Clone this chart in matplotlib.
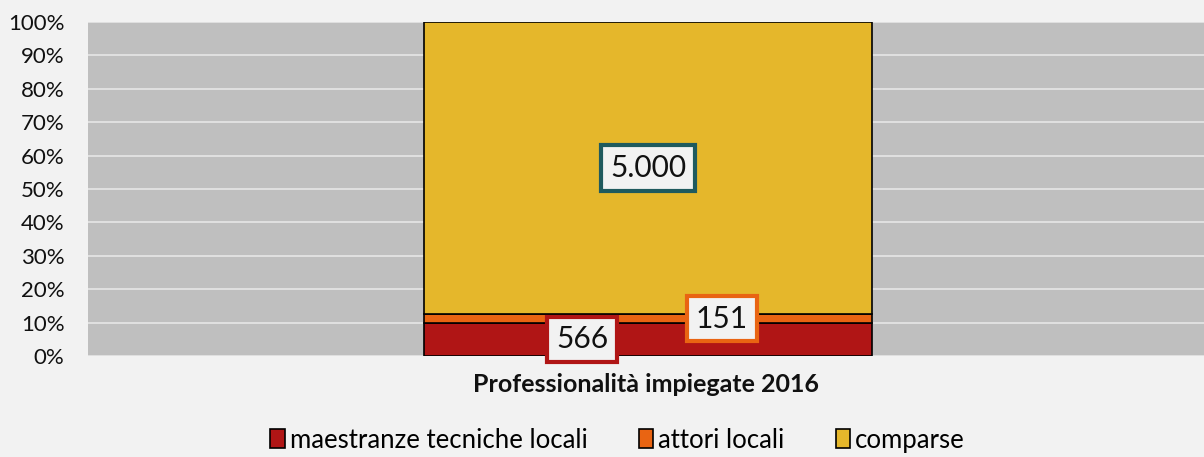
import matplotlib.pyplot as plt
from matplotlib.patches import Patch
from matplotlib.ticker import PercentFormatter

category = "Professionalità impiegate 2016"
series = ["maestranze tecniche locali", "attori locali", "comparse"]
values = [566, 151, 5000]
value_labels = ["566", "151", "5.000"]
colors = ["#B01515", "#E96412", "#E5B72B"]
box_edges = ["#B01515", "#E96412", "#1F5A5E"]
label_dx = [-0.059, 0.066, 0.0]

plt.rcParams["font.family"] = ["Lato", "DejaVu Sans"]

fig = plt.figure(figsize=(12.04, 4.57), dpi=100, facecolor="#F2F2F2")
ax = fig.add_axes([0.0731, 0.221, 0.9269, 0.731])
ax.set_facecolor("#BFBFBF")

total = sum(values)
bottom = 0.0
for name, v, c, txt, ec, dx in zip(series, values, colors, value_labels, box_edges, label_dx):
    share = v / total
    ax.bar(0.002, share, width=0.401, bottom=bottom, color=c, edgecolor="black",
           linewidth=1.2, zorder=3)
    ax.text(dx + 0.002, bottom + share / 2, txt, ha="center", va="center", fontsize=21.5,
            color="#111111", zorder=5,
            bbox=dict(boxstyle="square,pad=0.3", facecolor="#F2F2F2",
                      edgecolor=ec, linewidth=3))
    bottom += share

ax.set_xlim(-0.5, 0.5)
ax.set_ylim(0, 1)
ax.set_yticks([i / 10 for i in range(11)])
ax.yaxis.set_major_formatter(PercentFormatter(1.0, decimals=0))
ax.set_xticks([0])
ax.set_xticklabels([category], fontsize=18, fontweight="bold")
ax.tick_params(axis="both", length=0, colors="#111111")
ax.tick_params(axis="y", labelsize=16, pad=17)
ax.tick_params(axis="x", pad=12)
ax.grid(axis="y", color="#E6E6E6", linewidth=1.2, zorder=0)
ax.set_axisbelow(True)
for s in ax.spines.values():
    s.set_visible(False)

handles = [Patch(facecolor=c, edgecolor="black", linewidth=1.2) for c in colors]
fig.legend(handles, series, loc="center", bbox_to_anchor=(0.513, 0.037), ncol=3,
           frameon=False, fontsize=18.5, handlelength=0.55, handleheight=0.8,
           handletextpad=0.2, columnspacing=2.0)

fig.savefig("out.png", dpi=100, facecolor=fig.get_facecolor())
